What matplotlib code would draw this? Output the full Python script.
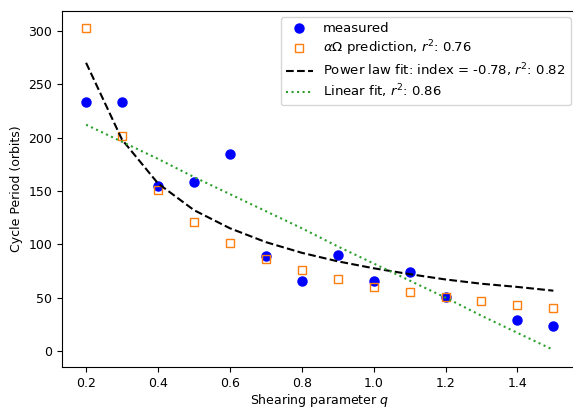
import numpy as np
import matplotlib
matplotlib.use('Agg')
import matplotlib.pyplot as plt

# Datos
q_measured = [0.2, 0.3, 0.4, 0.5, 0.6, 0.7, 0.8, 0.9, 1.0, 1.1, 1.2, 1.4, 1.5]
period_measured = [233.5, 233.5, 155, 158, 185, 89, 65.5, 89.5, 65.5, 74, 50.5, 29, 23]

q_pred = [0.2, 0.3, 0.4, 0.5, 0.6, 0.7, 0.8, 0.9, 1.0, 1.1, 1.2, 1.3, 1.4, 1.5]
period_pred = [302.5, 201.5, 151, 121, 101, 86, 76, 67.5, 60, 55, 50.5, 46.5, 43, 40.5]

q_fit = [0.2, 0.3, 0.4, 0.5, 0.6, 0.7, 0.8, 0.9, 1.0, 1.1, 1.2, 1.3, 1.4, 1.5]
power_fit = [270, 198, 157, 132, 115, 102, 92, 84, 77.5, 72, 67, 63, 60, 56.5]
linear_fit = [212, 196, 180, 163, 147, 131, 115, 98, 82, 66, 50, 33, 17, 1]

plt.rcParams['font.size'] = 9

fig = plt.figure(figsize=(5.73, 4.08), dpi=100)
ax = fig.add_axes([0.1082, 0.1005, 0.8983, 0.8725])

ax.plot(q_measured, period_measured, 'o', color='b', markersize=6.5, label='measured')
ax.plot(q_pred, period_pred, 's', color='C1', mfc='none', markersize=6,
        label=r'$\alpha\Omega$ prediction, $r^2$: 0.76')
ax.plot(q_fit, power_fit, 'k--', label=r'Power law fit: index = -0.78, $r^2$: 0.82')
ax.plot(q_fit, linear_fit, ':', color='C2', label=r'Linear fit, $r^2$: 0.86')

ax.set_xlim(0.133, 1.565)
ax.set_ylim(-15, 318.5)
ax.set_xticks([0.2, 0.4, 0.6, 0.8, 1.0, 1.2, 1.4])
ax.set_yticks([0, 50, 100, 150, 200, 250, 300])
ax.set_xlabel('Shearing parameter $q$', labelpad=2)
ax.set_ylabel('Cycle Period (orbits)')
ax.legend(loc='upper right', fontsize=9.5, labelspacing=0.25, borderaxespad=0.45)

fig.savefig('out.png', dpi=100)
